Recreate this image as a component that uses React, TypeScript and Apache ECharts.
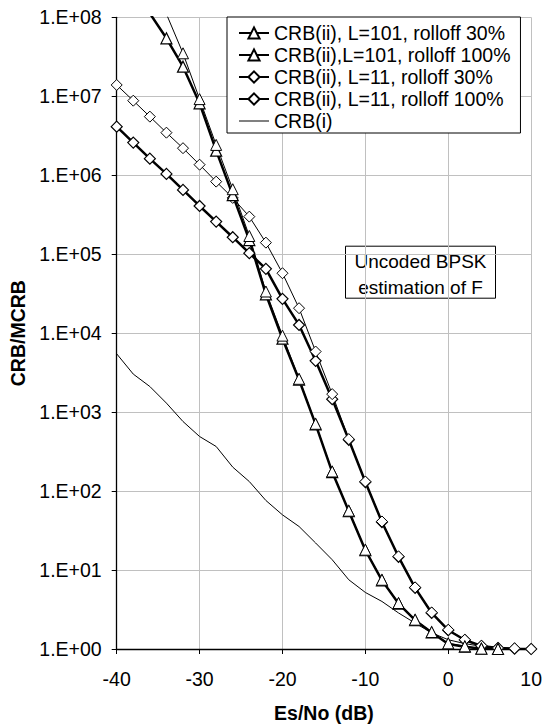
import React, { useEffect, useRef } from "react";
import * as echarts from "echarts";

const snr = [-40, -38, -36, -34, -32, -30, -28, -26, -24, -22, -20, -18, -16, -14, -12, -10, -8, -6, -4, -2, 0, 2, 4, 6, 8, 10];

const seriesNames = [
  "CRB(ii), L=101, rolloff 30%",
  "CRB(ii),L=101, rolloff 100%",
  "CRB(ii), L=11, rolloff 30%",
  "CRB(ii), L=11, rolloff 100%",
  "CRB(i)",
];

const l101r30 = [null, null, 3.5e8, 1.1e8, 3.5e7, 9.2e6, 2.42e6, 6.65e5, 1.7e5, 3.37e4, 9.3e3, 2.64e3, 711, 177, 56.4, 18.1, 7.53, 3.82, 2.35, 1.64, 1.18, 1.08, 1.01, 1.0, null, null];
const l101r100 = [null, null, 1.12e8, 5.42e7, 2.37e7, 8.15e6, 2.05e6, 5.6e5, 1.51e5, 3.1e4, 8.5e3, 2.57e3, 700, 174, 55.6, 17.8, 7.4, 3.76, 2.32, 1.62, 1.16, 1.07, 1.01, 1.0, null, null];
const l11r30 = [1.39e7, 8.79e6, 5.52e6, 3.46e6, 2.2e6, 1.36e6, 8.3e5, 5.16e5, 2.99e5, 1.4e5, 5.74e4, 2.07e4, 5.85e3, 1.69e3, 455, 132, 41.2, 14.9, 6.03, 2.9, 1.75, 1.31, 1.1, 1.03, 1.02, 1.0];
const l11r100 = [4.12e6, 2.59e6, 1.62e6, 1.04e6, 6.52e5, 4.08e5, 2.59e5, 1.64e5, 1.03e5, 6.52e4, 2.72e4, 1.27e4, 4.46e3, 1.46e3, 446, 130, 40.5, 14.7, 5.95, 2.86, 1.73, 1.3, 1.09, 1.03, 1.01, 1.0];
const crbI = [5470, 3030, 2110, 1300, 760, 491, 367, 201, 132, 76, 50, 35.6, 22, 13.5, 7.53, 5.2, 4.0, 2.86, 2.13, 1.6, 1.31, 1.17, 1.08, 1.04, 1.01, 1.0];

const xTicks = { min: -40, max: 10, interval: 10 };
const yTicks = { min: 1, max: 1e8 };

const annotationLines = ["Uncoded BPSK", "estimation of F"];
const xTitle = "Es/No (dB)";
const yTitle = "CRB/MCRB";

const FONT = '"Liberation Sans", Arial, sans-serif';

function pairs(vals: (number | null)[]) {
  return snr.map((x, i) => [x, vals[i] === null ? "-" : vals[i]]);
}

export default function App() {
  const ref = useRef<HTMLDivElement>(null);
  useEffect(() => {
    if (!ref.current) return;
    const chart = echarts.init(ref.current, null, { renderer: "svg" });
    const markerStyle = (bw: number) => ({ color: "#fff", borderColor: "#000", borderWidth: bw });
    const mk = (name: string, vals: (number | null)[], symbol: string, lw: number, bw: number) => ({
      name,
      type: "line",
      data: pairs(vals),
      symbol,
      symbolSize: 11,
      showSymbol: true,
      showAllSymbol: true,
      clip: true,
      lineStyle: { color: "#000", width: lw },
      itemStyle: markerStyle(bw),
      emphasis: { disabled: true },
    });
    chart.setOption({
      animation: false,
      backgroundColor: "#fff",
      textStyle: { fontFamily: FONT },
      grid: { left: 116.7, top: 17.3, right: 12.3, bottom: 78.7, containLabel: false },
      legend: {
        orient: "vertical",
        left: 227,
        top: 17,
        backgroundColor: "#fff",
        borderColor: "#000",
        borderWidth: 1,
        borderRadius: 0,
        padding: [5, 10, 1, 11],
        itemWidth: 30,
        itemHeight: 14,
        itemGap: 0,
        selectedMode: false,
        textStyle: { fontSize: 19.5, color: "#000", fontFamily: FONT, lineHeight: 22 },
        data: [
          seriesNames[0],
          seriesNames[1],
          seriesNames[2],
          seriesNames[3],
          { name: seriesNames[4], icon: "path://M0 6.5 H30 V7.5 H0 Z", itemStyle: { color: "#000" } },
        ],
      },
      xAxis: {
        type: "value",
        min: xTicks.min,
        max: xTicks.max,
        interval: xTicks.interval,
        name: xTitle,
        nameLocation: "middle",
        nameGap: 54,
        nameTextStyle: { fontSize: 19.5, fontWeight: "bold", color: "#000", fontFamily: FONT },
        axisLine: { onZero: false, lineStyle: { color: "#000", width: 1.3 } },
        axisTick: { show: true, inside: false, length: 5, lineStyle: { color: "#000" } },
        axisLabel: { fontSize: 19.5, color: "#000", margin: 20, fontFamily: FONT },
        splitLine: { show: true, lineStyle: { color: "#c0c0c0", width: 1 } },
      },
      yAxis: {
        type: "log",
        logBase: 10,
        min: yTicks.min,
        max: yTicks.max,
        name: yTitle,
        nameLocation: "middle",
        nameGap: 84,
        nameTextStyle: { fontSize: 19.5, fontWeight: "bold", color: "#000", fontFamily: FONT },
        axisLine: { show: true, onZero: false, lineStyle: { color: "#000", width: 1.3 } },
        axisTick: { show: true, inside: false, length: 5, lineStyle: { color: "#000" } },
        axisLabel: {
          fontSize: 19.5,
          color: "#000",
          margin: 15,
          fontFamily: FONT,
          formatter: (v: number) => {
            const e = Math.round(Math.log10(v));
            return "1.E+" + (e < 10 ? "0" + e : String(e));
          },
        },
        splitLine: { show: true, lineStyle: { color: "#c0c0c0", width: 1 } },
        minorTick: { show: false },
      },
      graphic: [
        {
          type: "group",
          left: 345,
          top: 245.7,
          children: [
            { type: "rect", shape: { x: 0, y: 0, width: 150, height: 52 }, style: { fill: "#fff", stroke: "#000", lineWidth: 1 } },
            { type: "text", x: 75, y: 15, style: { text: annotationLines[0], fontSize: 19, fontFamily: FONT, fill: "#000", align: "center", verticalAlign: "middle" } },
            { type: "text", x: 75, y: 41, style: { text: annotationLines[1], fontSize: 19, fontFamily: FONT, fill: "#000", align: "center", verticalAlign: "middle" } },
          ],
        },
      ],
      series: [
        { name: seriesNames[4], type: "line", data: pairs(crbI), symbol: "none", showSymbol: false, lineStyle: { color: "#000", width: 1 }, itemStyle: { color: "#000" }, clip: true },
        mk(seriesNames[3], l11r100, "diamond", 2.5, 1.2),
        mk(seriesNames[2], l11r30, "diamond", 1, 1),
        mk(seriesNames[1], l101r100, "triangle", 2.5, 1.2),
        mk(seriesNames[0], l101r30, "triangle", 1, 1),
      ],
    });
    return () => chart.dispose();
  }, []);
  return <div ref={ref} style={{ position: "absolute", left: 0, top: 0, width: 545, height: 728 }} />;
}
